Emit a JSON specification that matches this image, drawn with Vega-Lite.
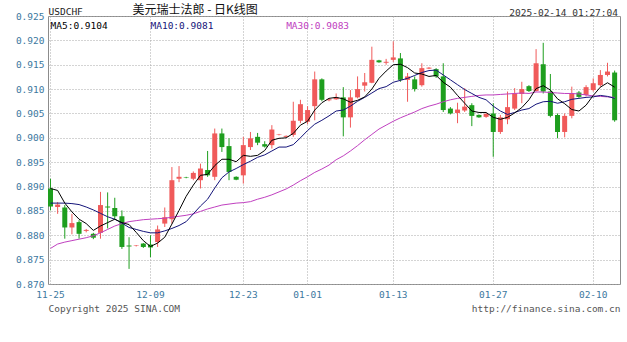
{
  "$schema": "https://vega.github.io/schema/vega-lite/v6.json",
  "width": 572,
  "height": 268,
  "autosize": "none",
  "padding": {"left": 48, "top": 16, "right": 7, "bottom": 58},
  "background": "#ffffff",
  "config": {"view": {"stroke": "#8c8c8c", "strokeWidth": 1}, "font": "DejaVu Sans Mono"},
  "title": {"text": "2025-02-14 01:27:04", "orient": "top", "anchor": "end", "frame": "group", "offset": -14, "fontSize": 9.5, "font": "DejaVu Sans Mono", "fontWeight": "normal", "color": "#333333", "dx": -2},
  "datasets": {
    "k": [
      {"d":"2024-11-25","o":0.8896,"h":0.8916,"l":0.8851,"c":0.8859,"m5":0.8896,"m10":0.8866,"m30":0.8773},
      {"d":"2024-11-26","o":0.8858,"h":0.8868,"l":0.8844,"c":0.8863,"m5":0.8892,"m10":0.8866,"m30":0.8782},
      {"d":"2024-11-27","o":0.8857,"h":0.8862,"l":0.8793,"c":0.8816,"m5":0.8866,"m10":0.8866,"m30":0.8786},
      {"d":"2024-11-28","o":0.8816,"h":0.8844,"l":0.8802,"c":0.8825,"m5":0.8848,"m10":0.8865,"m30":0.8789},
      {"d":"2024-11-29","o":0.8827,"h":0.8831,"l":0.8793,"c":0.8803,"m5":0.8833,"m10":0.8863,"m30":0.8792},
      {"d":"2024-11-30","o":0.8809,"h":0.8813,"l":0.8806,"c":0.8811,"m5":0.8824,"m10":0.8858,"m30":0.8795},
      {"d":"2024-12-01","o":0.8803,"h":0.8805,"l":0.8792,"c":0.8795,"m5":0.8810,"m10":0.8852,"m30":0.8799},
      {"d":"2024-12-02","o":0.8805,"h":0.8889,"l":0.8793,"c":0.8862,"m5":0.8819,"m10":0.8845,"m30":0.8805},
      {"d":"2024-12-03","o":0.8859,"h":0.8888,"l":0.8814,"c":0.8857,"m5":0.8826,"m10":0.8838,"m30":0.8812},
      {"d":"2024-12-04","o":0.8856,"h":0.8877,"l":0.8832,"c":0.8839,"m5":0.8833,"m10":0.8833,"m30":0.8819},
      {"d":"2024-12-05","o":0.8839,"h":0.8851,"l":0.8772,"c":0.8776,"m5":0.8826,"m10":0.8825,"m30":0.8824},
      {"d":"2024-12-06","o":0.8779,"h":0.8796,"l":0.8731,"c":0.8777,"m5":0.8822,"m10":0.8816,"m30":0.8828},
      {"d":"2024-12-07","o":0.8778,"h":0.8780,"l":0.8777,"c":0.8779,"m5":0.8806,"m10":0.8812,"m30":0.8830},
      {"d":"2024-12-08","o":0.8783,"h":0.8784,"l":0.8774,"c":0.8776,"m5":0.8789,"m10":0.8808,"m30":0.8832},
      {"d":"2024-12-09","o":0.8781,"h":0.8800,"l":0.8755,"c":0.8775,"m5":0.8777,"m10":0.8805,"m30":0.8833},
      {"d":"2024-12-10","o":0.8786,"h":0.8820,"l":0.8776,"c":0.8812,"m5":0.8784,"m10":0.8805,"m30":0.8834},
      {"d":"2024-12-11","o":0.8824,"h":0.8857,"l":0.8817,"c":0.8837,"m5":0.8796,"m10":0.8809,"m30":0.8835},
      {"d":"2024-12-12","o":0.8833,"h":0.8940,"l":0.8824,"c":0.8913,"m5":0.8823,"m10":0.8814,"m30":0.8837},
      {"d":"2024-12-13","o":0.8916,"h":0.8942,"l":0.8909,"c":0.8920,"m5":0.8851,"m10":0.8820,"m30":0.8839},
      {"d":"2024-12-14","o":0.8919,"h":0.8920,"l":0.8917,"c":0.8918,"m5":0.8880,"m10":0.8828,"m30":0.8841},
      {"d":"2024-12-16","o":0.8916,"h":0.8931,"l":0.8913,"c":0.8928,"m5":0.8903,"m10":0.8844,"m30":0.8844},
      {"d":"2024-12-17","o":0.8913,"h":0.8947,"l":0.8896,"c":0.8937,"m5":0.8923,"m10":0.8860,"m30":0.8849},
      {"d":"2024-12-18","o":0.8934,"h":0.8973,"l":0.8920,"c":0.8923,"m5":0.8925,"m10":0.8874,"m30":0.8854},
      {"d":"2024-12-19","o":0.8920,"h":0.9019,"l":0.8913,"c":0.9009,"m5":0.8943,"m10":0.8897,"m30":0.8858},
      {"d":"2024-12-20","o":0.9009,"h":0.9019,"l":0.8971,"c":0.8981,"m5":0.8956,"m10":0.8918,"m30":0.8862},
      {"d":"2024-12-21","o":0.8983,"h":0.8999,"l":0.8913,"c":0.8930,"m5":0.8956,"m10":0.8930,"m30":0.8864},
      {"d":"2024-12-22","o":0.8920,"h":0.8921,"l":0.8913,"c":0.8914,"m5":0.8951,"m10":0.8937,"m30":0.8866},
      {"d":"2024-12-23","o":0.8923,"h":0.9002,"l":0.8906,"c":0.8985,"m5":0.8964,"m10":0.8945,"m30":0.8867},
      {"d":"2024-12-24","o":0.8981,"h":0.9012,"l":0.8975,"c":0.8999,"m5":0.8962,"m10":0.8952,"m30":0.8869},
      {"d":"2024-12-25","o":0.9002,"h":0.9010,"l":0.8985,"c":0.8990,"m5":0.8964,"m10":0.8960,"m30":0.8874},
      {"d":"2024-12-26","o":0.8987,"h":0.8993,"l":0.8980,"c":0.8982,"m5":0.8974,"m10":0.8965,"m30":0.8878},
      {"d":"2024-12-27","o":0.8985,"h":0.9026,"l":0.8978,"c":0.9017,"m5":0.8995,"m10":0.8973,"m30":0.8883},
      {"d":"2024-12-28","o":0.9006,"h":0.9008,"l":0.9005,"c":0.9007,"m5":0.8999,"m10":0.8981,"m30":0.8889},
      {"d":"2024-12-29","o":0.9002,"h":0.9005,"l":0.9001,"c":0.9004,"m5":0.9000,"m10":0.8981,"m30":0.8895},
      {"d":"2024-12-30","o":0.9006,"h":0.9074,"l":0.9002,"c":0.9035,"m5":0.9009,"m10":0.8986,"m30":0.8903},
      {"d":"2024-12-31","o":0.9035,"h":0.9078,"l":0.9030,"c":0.9069,"m5":0.9026,"m10":0.9000,"m30":0.8912},
      {"d":"2025-01-01","o":0.9033,"h":0.9065,"l":0.9028,"c":0.9057,"m5":0.9034,"m10":0.9015,"m30":0.8920},
      {"d":"2025-01-02","o":0.9065,"h":0.9136,"l":0.9036,"c":0.9120,"m5":0.9057,"m10":0.9028,"m30":0.8929},
      {"d":"2025-01-03","o":0.9120,"h":0.9122,"l":0.9075,"c":0.9078,"m5":0.9072,"m10":0.9036,"m30":0.8936},
      {"d":"2025-01-04","o":0.9077,"h":0.9081,"l":0.9075,"c":0.9079,"m5":0.9081,"m10":0.9045,"m30":0.8944},
      {"d":"2025-01-05","o":0.9079,"h":0.9091,"l":0.9078,"c":0.9083,"m5":0.9083,"m10":0.9055,"m30":0.8955},
      {"d":"2025-01-06","o":0.9083,"h":0.9104,"l":0.9003,"c":0.9042,"m5":0.9080,"m10":0.9057,"m30":0.8963},
      {"d":"2025-01-07","o":0.9042,"h":0.9098,"l":0.9021,"c":0.9083,"m5":0.9073,"m10":0.9065,"m30":0.8973},
      {"d":"2025-01-08","o":0.9083,"h":0.9126,"l":0.9081,"c":0.9100,"m5":0.9077,"m10":0.9075,"m30":0.8984},
      {"d":"2025-01-09","o":0.9107,"h":0.9133,"l":0.9095,"c":0.9114,"m5":0.9084,"m10":0.9083,"m30":0.8996},
      {"d":"2025-01-10","o":0.9113,"h":0.9187,"l":0.9112,"c":0.9160,"m5":0.9100,"m10":0.9092,"m30":0.9007},
      {"d":"2025-01-11","o":0.9159,"h":0.9160,"l":0.9154,"c":0.9155,"m5":0.9122,"m10":0.9101,"m30":0.9018},
      {"d":"2025-01-12","o":0.9154,"h":0.9162,"l":0.9150,"c":0.9156,"m5":0.9137,"m10":0.9105,"m30":0.9026},
      {"d":"2025-01-13","o":0.9160,"h":0.9198,"l":0.9156,"c":0.9165,"m5":0.9150,"m10":0.9114,"m30":0.9034},
      {"d":"2025-01-14","o":0.9163,"h":0.9174,"l":0.9115,"c":0.9119,"m5":0.9151,"m10":0.9118,"m30":0.9041},
      {"d":"2025-01-15","o":0.9119,"h":0.9133,"l":0.9074,"c":0.9126,"m5":0.9144,"m10":0.9122,"m30":0.9047},
      {"d":"2025-01-16","o":0.9120,"h":0.9126,"l":0.9095,"c":0.9100,"m5":0.9133,"m10":0.9128,"m30":0.9053},
      {"d":"2025-01-17","o":0.9108,"h":0.9153,"l":0.9105,"c":0.9143,"m5":0.9131,"m10":0.9134,"m30":0.9060},
      {"d":"2025-01-18","o":0.9142,"h":0.9145,"l":0.9141,"c":0.9144,"m5":0.9126,"m10":0.9138,"m30":0.9065},
      {"d":"2025-01-19","o":0.9141,"h":0.9143,"l":0.9123,"c":0.9126,"m5":0.9128,"m10":0.9139,"m30":0.9069},
      {"d":"2025-01-20","o":0.9126,"h":0.9153,"l":0.9053,"c":0.9057,"m5":0.9114,"m10":0.9129,"m30":0.9074},
      {"d":"2025-01-21","o":0.9060,"h":0.9063,"l":0.9048,"c":0.9050,"m5":0.9104,"m10":0.9119,"m30":0.9078},
      {"d":"2025-01-22","o":0.9051,"h":0.9072,"l":0.9030,"c":0.9058,"m5":0.9087,"m10":0.9109,"m30":0.9081},
      {"d":"2025-01-23","o":0.9056,"h":0.9102,"l":0.9053,"c":0.9064,"m5":0.9071,"m10":0.9099,"m30":0.9083},
      {"d":"2025-01-24","o":0.9067,"h":0.9071,"l":0.9024,"c":0.9045,"m5":0.9055,"m10":0.9091,"m30":0.9085},
      {"d":"2025-01-25","o":0.9047,"h":0.9048,"l":0.9041,"c":0.9042,"m5":0.9052,"m10":0.9083,"m30":0.9087},
      {"d":"2025-01-26","o":0.9043,"h":0.9051,"l":0.9041,"c":0.9049,"m5":0.9052,"m10":0.9078,"m30":0.9088},
      {"d":"2025-01-27","o":0.9050,"h":0.9071,"l":0.8961,"c":0.9012,"m5":0.9042,"m10":0.9065,"m30":0.9088},
      {"d":"2025-01-28","o":0.9012,"h":0.9047,"l":0.9008,"c":0.9042,"m5":0.9038,"m10":0.9055,"m30":0.9089},
      {"d":"2025-01-29","o":0.9038,"h":0.9095,"l":0.9028,"c":0.9063,"m5":0.9042,"m10":0.9048,"m30":0.9090},
      {"d":"2025-01-30","o":0.9060,"h":0.9102,"l":0.9057,"c":0.9091,"m5":0.9051,"m10":0.9052,"m30":0.9091},
      {"d":"2025-01-31","o":0.9090,"h":0.9115,"l":0.9071,"c":0.9100,"m5":0.9062,"m10":0.9057,"m30":0.9092},
      {"d":"2025-02-01","o":0.9106,"h":0.9108,"l":0.9094,"c":0.9096,"m5":0.9078,"m10":0.9060,"m30":0.9091},
      {"d":"2025-02-02","o":0.9096,"h":0.9182,"l":0.9095,"c":0.9153,"m5":0.9101,"m10":0.9069,"m30":0.9094},
      {"d":"2025-02-03","o":0.9151,"h":0.9195,"l":0.9091,"c":0.9095,"m5":0.9107,"m10":0.9074,"m30":0.9094},
      {"d":"2025-02-04","o":0.9095,"h":0.9131,"l":0.9042,"c":0.9045,"m5":0.9098,"m10":0.9075,"m30":0.9093},
      {"d":"2025-02-05","o":0.9047,"h":0.9050,"l":0.8999,"c":0.9012,"m5":0.9080,"m10":0.9071,"m30":0.9092},
      {"d":"2025-02-06","o":0.9012,"h":0.9050,"l":0.9001,"c":0.9045,"m5":0.9070,"m10":0.9074,"m30":0.9091},
      {"d":"2025-02-07","o":0.9045,"h":0.9105,"l":0.9040,"c":0.9091,"m5":0.9058,"m10":0.9079,"m30":0.9091},
      {"d":"2025-02-08","o":0.9093,"h":0.9096,"l":0.9082,"c":0.9084,"m5":0.9055,"m10":0.9081,"m30":0.9090},
      {"d":"2025-02-09","o":0.9088,"h":0.9108,"l":0.9085,"c":0.9104,"m5":0.9067,"m10":0.9083,"m30":0.9088},
      {"d":"2025-02-10","o":0.9098,"h":0.9122,"l":0.9095,"c":0.9112,"m5":0.9087,"m10":0.9084,"m30":0.9086},
      {"d":"2025-02-11","o":0.9108,"h":0.9139,"l":0.9105,"c":0.9129,"m5":0.9104,"m10":0.9087,"m30":0.9085},
      {"d":"2025-02-12","o":0.9129,"h":0.9154,"l":0.9126,"c":0.9136,"m5":0.9113,"m10":0.9085,"m30":0.9084},
      {"d":"2025-02-13","o":0.9134,"h":0.9138,"l":0.9033,"c":0.9036,"m5":0.9104,"m10":0.9081,"m30":0.9083}
    ],
    "leg": [
      {"d":"2024-11-25","s":"MA5","t":"MA5:0.9104"},
      {"d":"2024-12-09","s":"MA10","t":"MA10:0.9081"},
      {"d":"2024-12-29","s":"MA30","t":"MA30:0.9083"}
    ]
  },
  "data": {"name": "k"},
  "resolve": {"axis": {"x": "independent", "y": "independent"}},
  "layer": [
    {
      "mark": {"type": "rule", "strokeWidth": 1},
      "encoding": {
        "x": {"field": "d", "type": "ordinal", "sort": "ascending",
          "scale": {"type": "band", "paddingInner": 0.3, "paddingOuter": 0.2, "align": 0},
          "axis": {"values": ["2024-11-25","2024-12-09","2024-12-23","2025-01-01","2025-01-13","2025-01-27","2025-02-10"],
            "labelExpr": "slice(datum.value, 5)", "bandPosition": 0.5,
            "grid": true, "gridDash": [1, 2], "gridColor": "#a8a8a8", "gridWidth": 1,
            "ticks": false, "tickSize": 0, "domain": false, "labelAngle": 0, "labelPadding": 5,
            "labelFont": "DejaVu Sans Mono", "labelFontSize": 9.5, "labelColor": "#3c78a0",
            "title": "http://finance.sina.com.cn", "titleX": 572, "titleY": 24, "titleAlign": "right", "titleBaseline": "middle",
            "titleFont": "DejaVu Sans Mono", "titleFontSize": 9.5, "titleFontWeight": "normal", "titleColor": "#555555"}},
        "y": {"field": "l", "type": "quantitative",
          "scale": {"domain": [0.87, 0.925], "nice": false, "zero": false},
          "axis": {"values": [0.87, 0.875, 0.88, 0.885, 0.89, 0.895, 0.9, 0.905, 0.91, 0.915, 0.92, 0.925],
            "format": ".3f", "grid": true, "gridDash": [1, 2], "gridColor": "#a8a8a8",
            "ticks": false, "tickSize": 0, "domain": false, "labelPadding": 4,
            "labelFont": "DejaVu Sans Mono", "labelFontSize": 9.5, "labelColor": "#3c78a0",
            "title": "Copyright 2025 SINA.COM", "titleAngle": 0, "titleX": 0, "titleY": 292, "titleAlign": "left", "titleBaseline": "middle",
            "titleFont": "DejaVu Sans Mono", "titleFontSize": 9.5, "titleFontWeight": "normal", "titleColor": "#555555"}},
        "y2": {"field": "h"},
        "color": {"condition": {"test": "datum.c >= datum.o", "value": "#f05a5a"}, "value": "#1e9e1e"}
      }
    },
    {
      "mark": {"type": "bar"},
      "encoding": {
        "x": {"field": "d", "type": "ordinal",
          "axis": {"orient": "top", "labels": false, "ticks": false, "domain": false, "grid": false,
            "title": "美元瑞士法郎 - 日K线图", "titleX": 84, "titleY": -7, "titleAlign": "left", "titleBaseline": "middle",
            "titleFont": "Noto Sans CJK SC", "titleFontSize": 12, "titleFontWeight": "normal", "titleColor": "#111111"}},
        "y": {"field": "o", "type": "quantitative",
          "axis": {"orient": "right", "labels": false, "ticks": false, "domain": false, "grid": false,
            "title": "USDCHF", "titleAngle": 0, "titleX": -572, "titleY": -5, "titleAlign": "left", "titleBaseline": "middle",
            "titleFont": "DejaVu Sans Mono", "titleFontSize": 9.5, "titleFontWeight": "normal", "titleColor": "#222222"}},
        "y2": {"field": "c"},
        "color": {"condition": {"test": "datum.c >= datum.o", "value": "#f05a5a"}, "value": "#1e9e1e"}
      }
    },
    {
      "mark": {"type": "line", "color": "#c040c0", "strokeWidth": 1},
      "encoding": {
        "x": {"field": "d", "type": "ordinal", "axis": null},
        "y": {"field": "m30", "type": "quantitative", "axis": null}
      }
    },
    {
      "mark": {"type": "line", "color": "#14147a", "strokeWidth": 1},
      "encoding": {
        "x": {"field": "d", "type": "ordinal", "axis": null},
        "y": {"field": "m10", "type": "quantitative", "axis": null}
      }
    },
    {
      "mark": {"type": "line", "color": "#000000", "strokeWidth": 1},
      "encoding": {
        "x": {"field": "d", "type": "ordinal", "axis": null},
        "y": {"field": "m5", "type": "quantitative", "axis": null}
      }
    },
    {
      "data": {"name": "leg"},
      "mark": {"type": "text", "align": "left", "baseline": "middle", "dx": 0, "font": "DejaVu Sans Mono", "fontSize": 9.5},
      "encoding": {
        "x": {"field": "d", "type": "ordinal", "axis": null},
        "y": {"datum": 0.923, "type": "quantitative", "axis": null},
        "text": {"field": "t"},
        "color": {"field": "s", "type": "nominal", "legend": null,
          "scale": {"domain": ["MA5", "MA10", "MA30"], "range": ["#000000", "#14147a", "#c040c0"]}}
      }
    }
  ]
}
